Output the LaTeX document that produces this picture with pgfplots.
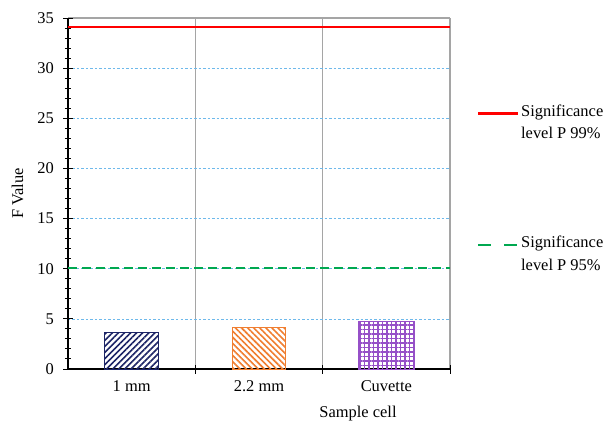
\documentclass[border=0pt]{standalone}
\usepackage{fontspec}
\setmainfont{Liberation Serif}
\usepackage{pgfplots}
\pgfplotsset{compat=1.18}
\usetikzlibrary{patterns.meta}
\definecolor{navybar}{RGB}{28,36,102}
\definecolor{orangebar}{RGB}{240,126,48}
\definecolor{purplebar}{RGB}{150,80,200}
\definecolor{sigred}{RGB}{255,0,0}
\definecolor{siggreen}{RGB}{0,168,80}
\definecolor{gridblue}{RGB}{110,185,235}
\definecolor{bordergray}{RGB}{165,165,165}
\begin{document}
\fontsize{16.5}{23}\selectfont
\begin{tikzpicture}
\useasboundingbox (-68bp,-64bp) rectangle (539bp,369bp);
\begin{axis}[
  at={(0,0)}, anchor=south west,
  scale only axis, width=382bp, height=351bp,
  xmin=-0.5, xmax=2.5, ymin=0, ymax=35,
  axis lines*=left,
  axis line style={black, line width=1.2bp},
  /pgf/number format/assume math mode=true,
  tick align=center,
  major tick length=9bp, minor tick length=6bp,
  tick style={black, line width=1bp},
  xtick={0.5,1.5,2.5}, xticklabels={},
  xmajorgrids,
  extra x ticks={0,1,2},
  extra x tick labels={1 mm,2.2 mm,Cuvette},
  extra x tick style={major tick length=0pt, xmajorgrids=false,
    xticklabel style={yshift=-6bp}},
  ytick={0,5,...,30},
  minor ytick={0,1,...,35},
  yticklabel style={xshift=-4bp},
  ymajorgrids,
  extra y ticks={35},
  extra y tick style={major grid style={bordergray, solid, line width=1.8bp}},
  major grid style={gridblue, dash pattern=on 2.5bp off 2bp, line width=0.6bp},
  x grid style={bordergray, solid, line width=1.4bp},
  xlabel={Sample cell},
  xlabel style={at={(axis description cs:0,0)}, anchor=center, xshift=290bp, yshift=-45bp},
  ylabel={F Value},
  ylabel style={at={(axis description cs:-0.1322,0.5)}, anchor=center},
  legend style={at={(axis description cs:1.07,0.76)}, anchor=north west,
    draw=none, fill=none, inner sep=0pt, row sep=91bp,
    cells={anchor=west, align=left}},
  legend cell align=left,
]
\addplot[ybar, bar width=0.42, bar shift=0pt, draw=navybar, line width=1bp,
  pattern={Lines[angle=45,distance=4.3bp,line width=1.6bp]}, pattern color=navybar, forget plot]
  coordinates {(0,3.66)};
\addplot[ybar, bar width=0.42, bar shift=0pt, draw=orangebar, line width=1bp,
  pattern={Lines[angle=-45,distance=4.3bp,line width=1.6bp]}, pattern color=orangebar, forget plot]
  coordinates {(1,4.16)};
\addplot[ybar, bar width=0.44, bar shift=0pt, draw=purplebar, line width=1bp,
  pattern={Hatch[angle=0,distance=4.5bp,line width=1.2bp]}, pattern color=purplebar, forget plot]
  coordinates {(2,4.78)};
\addplot[sigred, line width=2.2bp,
  legend image code/.code={\path[draw=none, fill=none] (0bp,-13bp) rectangle (40bp,13bp);
    \draw[sigred, line width=2.2bp] (0bp,9.5bp) -- (40bp,9.5bp);}]
  coordinates {(-0.5,34.1) (2.5,34.1)};
\addlegendentry{Significance\\level P 99\%}
\addplot[siggreen, line width=2.2bp, dash pattern=on 9bp off 5bp,
  legend image code/.code={\path[draw=none, fill=none] (0bp,-13bp) rectangle (40bp,13bp);
    \draw[siggreen, line width=2.2bp, dash pattern=on 13bp off 13bp] (0bp,9.5bp) -- (40bp,9.5bp);}]
  coordinates {(-0.5,10.1) (2.5,10.1)};
\addlegendentry{Significance\\level P 95\%}
\end{axis}
\end{tikzpicture}
\end{document}
